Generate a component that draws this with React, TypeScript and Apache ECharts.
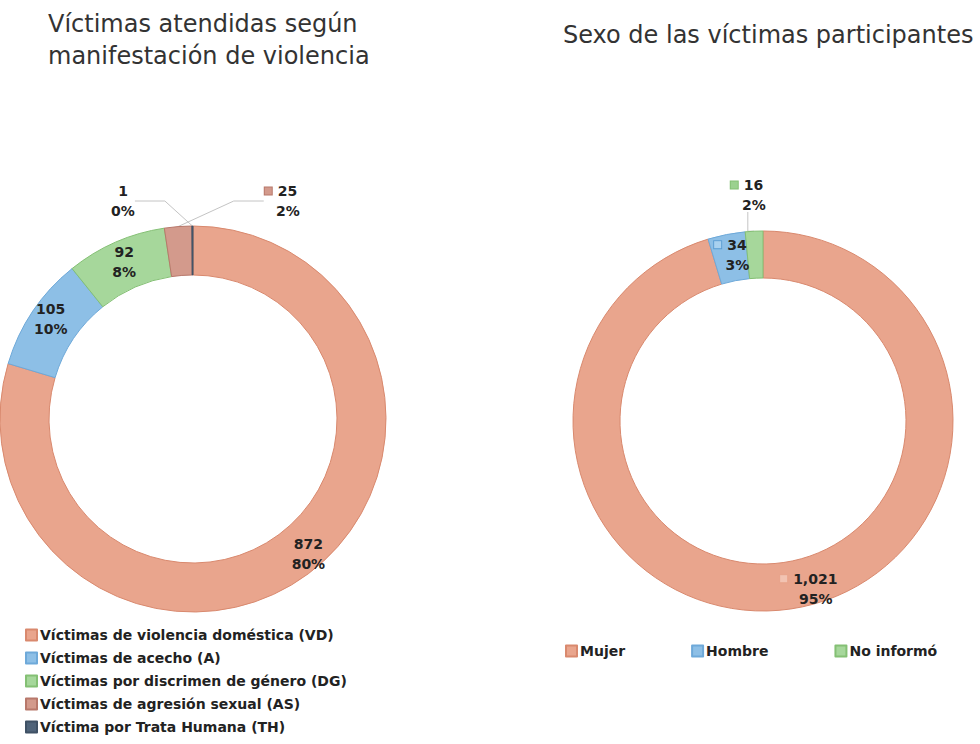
import React, { useEffect, useRef } from 'react';
import * as echarts from 'echarts';

const leftTitle = 'Víctimas atendidas según\nmanifestación de violencia';
const rightTitle = 'Sexo de las víctimas participantes';

const leftCategories = [
  'Víctimas de violencia doméstica (VD)',
  'Víctimas de acecho (A)',
  'Víctimas por discrimen de género (DG)',
  'Víctimas de agresión sexual (AS)',
  'Víctima por Trata Humana (TH)',
];
const leftValues = [872, 105, 92, 25, 1];

const rightCategories = ['Mujer', 'Hombre', 'No informó'];
const rightValues = [1021, 34, 16];

const FONT = '"DejaVu Sans", sans-serif';

const leftFill = ['#E9A58D', '#8DBFE6', '#A6D79B', '#D39A8C', '#4F6379'];
const leftBorder = ['#D9896E', '#6EA9D9', '#84C074', '#B8786B', '#3F5165'];
const leftKeys = [false, false, false, true, false];
const leftOutside = [false, false, false, true, true];

const rightFill = ['#E9A58D', '#8DBFE6', '#A6D79B'];
const rightBorder = ['#D9896E', '#6EA9D9', '#84C074'];
const rightKeyFill = ['#F2C3B2', '#A9D1EF', '#9BD18F'];
const rightKeyBorder = ['#E8A48C', '#5E9FD3', '#84C074'];
const rightKeys = [true, true, true];
const rightOutside = [false, false, true];

const leftCenter = [193, 419];
const rightCenter = [763, 421];

function makeRich(fills: string[], borders: string[]) {
  const rich: any = {
    v: { fontSize: 14, fontWeight: 'bold', color: '#222', lineHeight: 20, fontFamily: FONT },
    g: { width: 6, height: 8 },
    s: { width: 14, height: 8 },
  };
  fills.forEach((f, i) => {
    rich['k' + i] = { width: 7, height: 7, backgroundColor: f, borderColor: borders[i], borderWidth: 1 };
  });
  return rich;
}

function makeFormatter(keys: boolean[]) {
  return (p: any) => {
    const v = Number(p.value).toLocaleString('en-US');
    const pct = `${p.percent}%`;
    if (keys[p.dataIndex]) return `{k${p.dataIndex}|}{g|}{v|${v}}\n{s|}{v|${pct}}`;
    return `{v|${v}}\n{v|${pct}}`;
  };
}

export default function App() {
  const ref = useRef<HTMLDivElement>(null);
  useEffect(() => {
    const chart = echarts.init(ref.current!, undefined, { renderer: 'svg' });
    const leftData = leftCategories.map((name, i) => ({
      name,
      value: leftValues[i],
      itemStyle: { color: leftFill[i], borderColor: leftBorder[i], borderWidth: 1 },
      label: { position: leftOutside[i] ? 'outside' : 'inside' },
      labelLine: { show: leftOutside[i] },
    }));
    const rightData = rightCategories.map((name, i) => ({
      name,
      value: rightValues[i],
      itemStyle: { color: rightFill[i], borderColor: rightBorder[i], borderWidth: 1 },
      label: { position: rightOutside[i] ? 'outside' : 'inside' },
      labelLine: { show: rightOutside[i] },
    }));
    chart.setOption({
      animation: false,
      textStyle: { fontFamily: FONT },
      title: [
        {
          text: leftTitle,
          left: 43,
          top: 3,
          textStyle: { fontSize: 24, fontWeight: 'normal', color: '#333', lineHeight: 32, fontFamily: FONT },
        },
        {
          text: rightTitle,
          left: 558,
          top: 18,
          textStyle: { fontSize: 24, fontWeight: 'normal', color: '#333', fontFamily: FONT },
        },
      ],
      legend: [
        {
          data: leftCategories,
          orient: 'vertical',
          left: 25,
          top: 626,
          padding: 0,
          height: 130,
          itemWidth: 11,
          itemHeight: 11,
          itemGap: 5,
          icon: 'rect',
          textStyle: { fontSize: 14, fontWeight: 'bold', color: '#222', lineHeight: 18, fontFamily: FONT, padding: [0, 0, 0, -2] },
        },
        {
          data: rightCategories,
          orient: 'horizontal',
          left: 565,
          top: 642,
          padding: 0,
          itemWidth: 11,
          itemHeight: 11,
          itemGap: 66,
          icon: 'rect',
          textStyle: { fontSize: 14, fontWeight: 'bold', color: '#222', lineHeight: 18, fontFamily: FONT, padding: [0, 0, 0, -2] },
        },
      ],
      series: [
        {
          type: 'pie',
          center: leftCenter,
          radius: [144, 193],
          startAngle: 90,
          clockwise: true,
          percentPrecision: 0,
          avoidLabelOverlap: false,
          label: { show: true, formatter: makeFormatter(leftKeys), rich: makeRich(leftFill, leftBorder), align: 'center' },
          labelLine: { lineStyle: { color: '#C4C4C4', width: 1 } },
          labelLayout: (p: any) => {
            if (p.dataIndex === 3) return { x: leftCenter[0] + 88, y: leftCenter[1] - 218, align: 'center', verticalAlign: 'middle' };
            if (p.dataIndex === 4) return { x: leftCenter[0] - 70, y: leftCenter[1] - 218, align: 'center', verticalAlign: 'middle' };
            if (p.dataIndex === 0) return { dx: 13, dy: -3 };
            if (p.dataIndex === 1) return { dy: -4 };
            return {};
          },
          emphasis: { disabled: true },
          data: leftData,
        },
        {
          type: 'pie',
          center: rightCenter,
          radius: [143, 190],
          startAngle: 90,
          clockwise: true,
          percentPrecision: 0,
          avoidLabelOverlap: false,
          label: { show: true, formatter: makeFormatter(rightKeys), rich: makeRich(rightKeyFill, rightKeyBorder), align: 'center' },
          labelLine: { lineStyle: { color: '#C4C4C4', width: 1 } },
          labelLayout: (p: any) => {
            if (p.dataIndex === 2) return { x: rightCenter[0] - 16, y: rightCenter[1] - 226, align: 'center', verticalAlign: 'middle' };
            if (p.dataIndex === 0) return { dx: 21 };
            return {};
          },
          emphasis: { disabled: true },
          data: rightData,
        },
      ],
    });
    return () => chart.dispose();
  }, []);
  return <div ref={ref} style={{ position: 'absolute', left: 0, top: 0, width: 980, height: 744 }} />;
}
